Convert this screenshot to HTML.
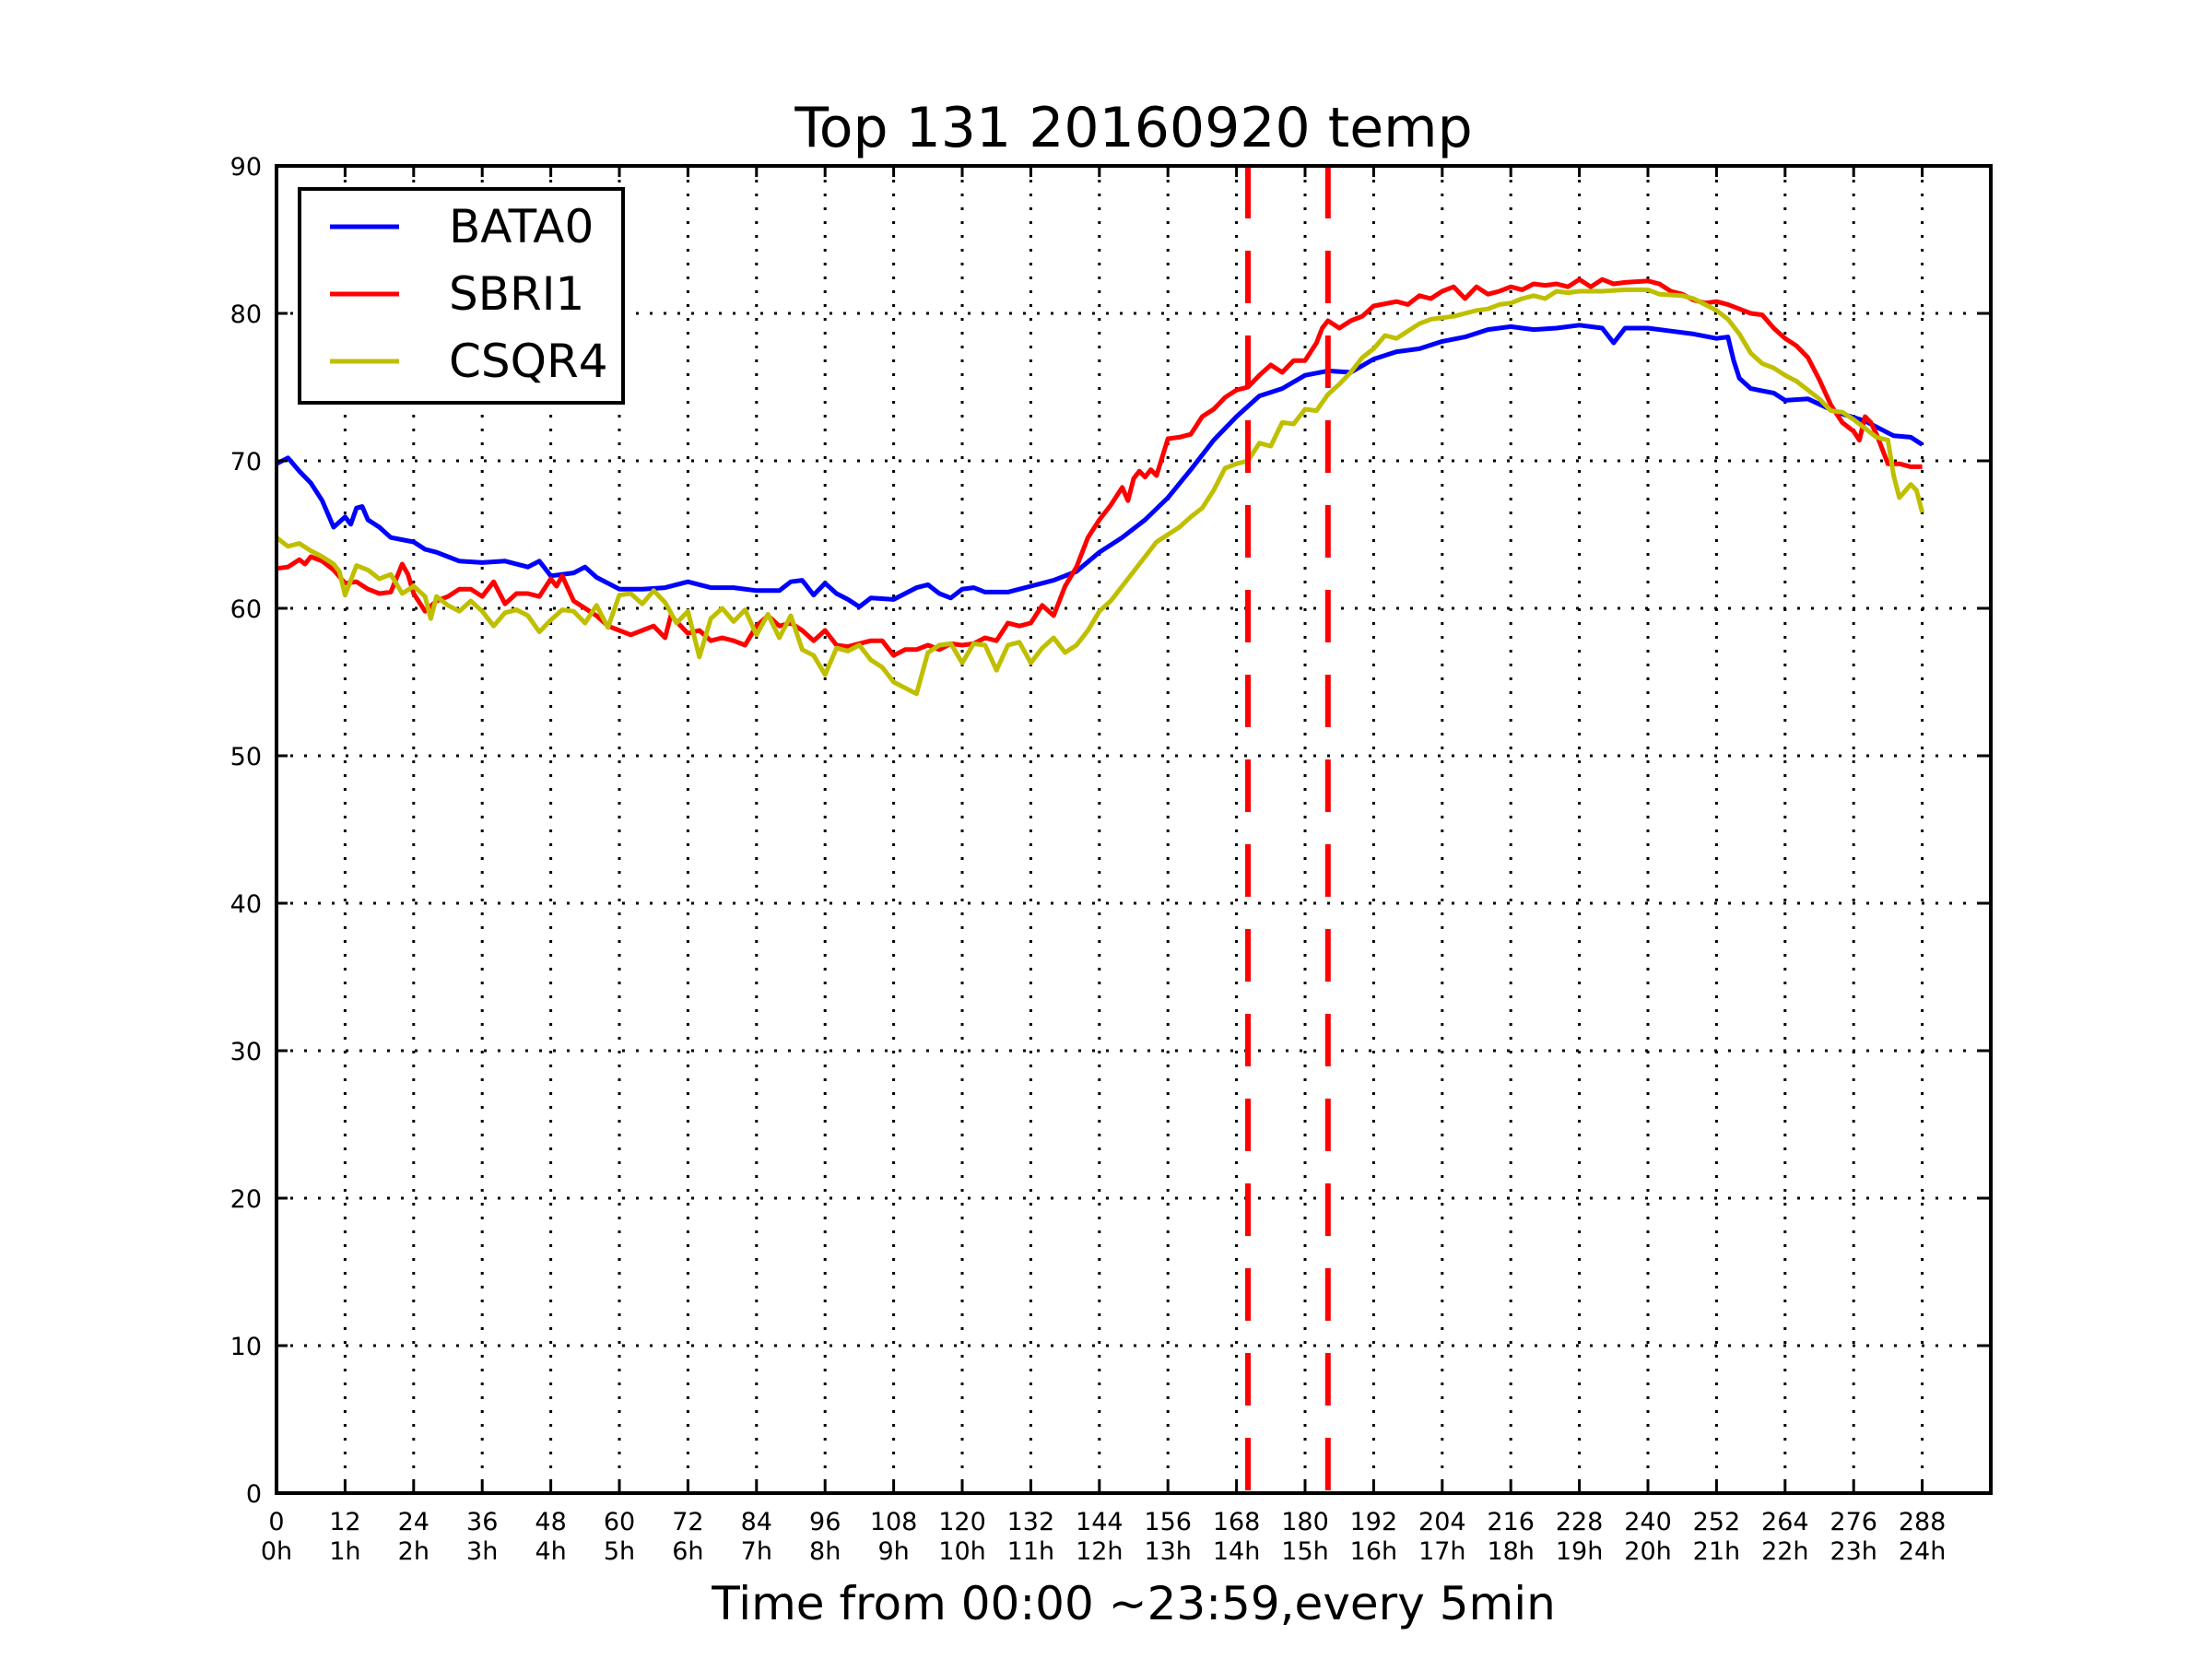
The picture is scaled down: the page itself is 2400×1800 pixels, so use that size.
<!DOCTYPE html>
<html><head><meta charset="utf-8"><style>
html,body{margin:0;padding:0;background:#fff;}
svg{display:block;font-family:"DejaVu Sans","Liberation Sans",sans-serif;}
</style></head><body>
<svg id="chart" width="2400" height="1800" viewBox="0 0 2400 1800" xmlns="http://www.w3.org/2000/svg">
<rect width="2400" height="1800" fill="#fff"/>
<text x="1230" y="159" font-size="60" text-anchor="middle">Top 131 20160920 temp</text>
<text x="1230" y="1757" font-size="50" text-anchor="middle">Time from 00:00 ~23:59,every 5min</text>
<g id="grid"></g>
<g id="marks"></g>
<g id="axes"></g>
<g>
<rect x="325" y="205" width="351" height="232" fill="#fff" stroke="#000" stroke-width="4"/>
<g><line x1="358" y1="246" x2="433" y2="246" stroke="#0000ff" stroke-width="5"/><text x="487" y="263" font-size="50">BATA0</text></g>
<g><line x1="358" y1="319" x2="433" y2="319" stroke="#ff0000" stroke-width="5"/><text x="487" y="336" font-size="50">SBRI1</text></g>
<g><line x1="358" y1="392" x2="433" y2="392" stroke="#bfbf00" stroke-width="5"/><text x="487" y="409" font-size="50">CSQR4</text></g>
</g>
</svg>
<script>
const xTicks=[0,12,24,36,48,60,72,84,96,108,120,132,144,156,168,180,192,204,216,228,240,252,264,276,288];
const xTickHours=["0h","1h","2h","3h","4h","5h","6h","7h","8h","9h","10h","11h","12h","13h","14h","15h","16h","17h","18h","19h","20h","21h","22h","23h","24h"];
const yTicks=[0,10,20,30,40,50,60,70,80,90];
const markerX=[170,184];
const bataX=[0,2,4,6,8,10,12,13,14,15,16,18,20,24,26,28,30,32,36,40,44,46,48,52,54,56,60,64,68,72,76,80,84,88,90,92,94,96,98,100,102,104,108,112,114,116,118,120,122,124,128,132,136,140,144,148,152,156,160,164,168,172,176,180,184,188,192,196,200,204,208,212,216,220,224,228,232,234,236,240,244,248,252,254,255,256,258,262,264,268,273,278,283,286,288];
const bataY=[69.8,70.2,69.3,68.5,67.3,65.5,66.2,65.7,66.8,66.9,66,65.5,64.8,64.5,64,63.8,63.5,63.2,63.1,63.2,62.8,63.2,62.2,62.4,62.8,62.1,61.3,61.3,61.4,61.8,61.4,61.4,61.2,61.2,61.8,61.9,60.9,61.7,61.0,60.6,60.1,60.7,60.6,61.4,61.6,61.0,60.7,61.3,61.4,61.1,61.1,61.5,61.9,62.5,63.8,64.8,66.0,67.5,69.4,71.4,73.0,74.4,74.9,75.8,76.1,76.0,76.9,77.4,77.6,78.1,78.4,78.9,79.1,78.9,79.0,79.2,79.0,78.0,79.0,79.0,78.8,78.6,78.3,78.4,76.8,75.6,74.9,74.6,74.1,74.2,73.3,72.7,71.7,71.6,71.1];
const sbriX=[0,2,4,5,6,8,10,12,14,16,18,20,22,23,24,26,28,30,32,34,36,38,40,42,44,46,48,49,50,52,54,56,58,60,62,64,66,68,69,72,74,76,78,80,82,84,86,88,90,92,94,96,98,100,104,106,108,110,112,114,116,118,120,122,124,126,128,130,132,134,136,138,140,142,144,146,148,149,150,151,152,153,154,156,158,160,162,164,166,168,170,172,174,176,178,180,182,183,184,186,188,190,192,196,198,200,202,204,206,208,210,212,214,216,218,220,222,224,226,228,230,232,234,236,240,242,244,246,248,250,252,254,256,258,260,262,264,266,268,270,272,274,276,277,278,279,280,282,284,286,288];
const sbriY=[62.7,62.8,63.3,63.0,63.5,63.2,62.6,61.7,61.8,61.3,61.0,61.1,63.0,62.3,61.0,59.8,60.5,60.8,61.3,61.3,60.8,61.8,60.3,61.0,61.0,60.8,62.0,61.5,62.2,60.5,60.0,59.5,58.8,58.5,58.2,58.5,58.8,58.0,59.5,58.3,58.5,57.8,58.0,57.8,57.5,58.8,59.5,58.8,59.0,58.5,57.8,58.5,57.5,57.4,57.8,57.8,56.8,57.2,57.2,57.5,57.2,57.6,57.5,57.6,58.0,57.8,59.0,58.8,59.0,60.2,59.5,61.5,62.8,64.8,66.0,67.0,68.2,67.3,68.8,69.3,68.9,69.4,69.0,71.5,71.6,71.8,73.0,73.5,74.3,74.8,75.0,75.8,76.5,76.0,76.8,76.8,78.0,79.0,79.5,79.0,79.5,79.8,80.5,80.8,80.6,81.2,81.0,81.5,81.8,81.0,81.8,81.3,81.5,81.8,81.6,82.0,81.9,82.0,81.8,82.3,81.8,82.3,82.0,82.1,82.2,82.0,81.5,81.3,80.9,80.7,80.8,80.6,80.3,80.0,79.9,79.0,78.3,77.8,77.0,75.5,73.8,72.6,72.0,71.4,73.0,72.6,71.8,69.8,69.8,69.6,69.6];
const csqrX=[0,2,4,6,8,10,11,12,14,16,18,20,22,24,26,27,28,30,32,34,36,38,40,42,44,46,48,50,52,54,56,58,60,62,64,66,68,70,72,74,76,78,80,82,84,86,88,90,92,94,96,98,100,102,104,106,108,110,112,114,116,118,120,122,124,126,128,130,132,134,136,138,140,142,144,146,148,150,152,154,156,158,160,162,164,166,168,170,172,174,176,178,180,182,184,186,188,190,192,194,196,198,200,202,204,206,208,210,212,214,216,218,220,222,224,226,228,232,236,240,242,246,248,250,252,254,256,258,260,262,264,266,268,270,272,274,276,278,280,282,283,284,286,287,288];
const csqrY=[64.8,64.2,64.4,63.9,63.5,63.0,62.5,60.9,62.9,62.6,62.0,62.3,61.0,61.5,60.8,59.3,60.8,60.2,59.8,60.5,59.8,58.8,59.7,59.9,59.5,58.4,59.2,59.9,59.8,59.0,60.2,58.7,60.9,61.0,60.3,61.2,60.4,59.0,59.8,56.7,59.3,60.0,59.1,59.9,58.2,59.6,58.0,59.5,57.2,56.8,55.5,57.3,57.1,57.5,56.5,56.0,55.0,54.6,54.2,57.0,57.5,57.6,56.3,57.6,57.5,55.8,57.5,57.7,56.3,57.3,58.0,57.0,57.5,58.5,59.8,60.5,61.5,62.5,63.5,64.5,65.0,65.5,66.2,66.8,68.0,69.5,69.8,70.0,71.2,71.0,72.6,72.5,73.5,73.4,74.5,75.2,76.0,77.0,77.6,78.5,78.3,78.8,79.3,79.6,79.7,79.8,80.0,80.2,80.3,80.6,80.7,81.0,81.2,81.0,81.5,81.4,81.5,81.5,81.6,81.6,81.3,81.2,81.0,80.6,80.2,79.6,78.6,77.3,76.6,76.3,75.8,75.4,74.8,74.2,73.4,73.3,72.8,72.2,71.6,71.4,69.0,67.5,68.4,68.0,66.5];

const NS="http://www.w3.org/2000/svg";
const L=300,R=2160,T=180,B=1620,XMAX=300,YMAX=90;
function xs(v){return L+(R-L)*v/XMAX;}
function ys(v){return B-(B-T)*v/YMAX;}
function mk(tag,attrs,parent){const e=document.createElementNS(NS,tag);for(const k in attrs)e.setAttribute(k,attrs[k]);parent.appendChild(e);return e;}
const grid=document.getElementById('grid'),marks=document.getElementById('marks'),axes=document.getElementById('axes');
xTicks.forEach((t,i)=>{
  const g=mk('line',{x1:xs(t),x2:xs(t),y1:T,y2:B,stroke:'#000','stroke-width':3,'stroke-dasharray':'3,12'},grid);
  
  
  const a=mk('line',{x1:xs(t),x2:xs(t),y1:B,y2:B-12,stroke:'#000','stroke-width':3},axes);
  
  
  const b=mk('line',{x1:xs(t),x2:xs(t),y1:T,y2:T+12,stroke:'#000','stroke-width':3},axes);
  
  
  const tx=mk('text',{x:xs(t),y:1660,'font-size':27,'text-anchor':'middle'},axes);
  tx.textContent=t;
  
  
  const th=mk('text',{x:xs(t),y:1692,'font-size':27,'text-anchor':'middle'},axes);
  th.textContent=xTickHours[i];
  
  
});
yTicks.forEach(t=>{
  const g=mk('line',{x1:L,x2:R,y1:ys(t),y2:ys(t),stroke:'#000','stroke-width':3,'stroke-dasharray':'3,12'},grid);
  
  
  const a=mk('line',{x1:L,x2:L+12,y1:ys(t),y2:ys(t),stroke:'#000','stroke-width':3},axes);
  
  
  const b=mk('line',{x1:R,x2:R-12,y1:ys(t),y2:ys(t),stroke:'#000','stroke-width':3},axes);
  
  
  const tx=mk('text',{x:284,y:ys(t)+10,'font-size':27,'text-anchor':'end'},axes);
  tx.textContent=t;
  
  
});
const sp=mk('rect',{x:L,y:T,width:R-L,height:B-T,fill:'none',stroke:'#000','stroke-width':4},axes);


function series(xa,ya,color,name){
  const d=xa.map((x,i)=>(i?'L':'M')+xs(x).toFixed(1)+','+ys(ya[i]).toFixed(1)).join(' ');
  const p=mk('path',{d:d,fill:'none',stroke:color,'stroke-width':5,'stroke-linejoin':'round'},marks);
  
  
}
series(bataX,bataY,'#0000ff','bata0-line');
series(sbriX,sbriY,'#ff0000','sbri1-line');
series(csqrX,csqrY,'#bfbf00','csqr4-line');
markerX.forEach(m=>{
  const v=mk('line',{x1:xs(m),x2:xs(m),y1:T,y2:B,stroke:'#ff0000','stroke-width':6,'stroke-dasharray':'57,35'},marks);
  
  
});
</script>
</body></html>
